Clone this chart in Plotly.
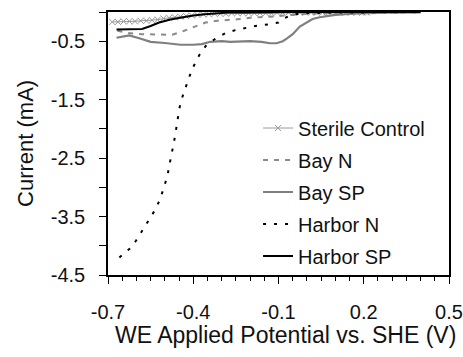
import plotly.graph_objects as go

# ---- data ----
sterile_v = [-0.685,-0.665,-0.645,-0.625,-0.605,-0.585,-0.565,-0.545,-0.525,-0.505,
             -0.485,-0.465,-0.445,-0.425,-0.405,-0.385,-0.365,-0.345,-0.325,-0.305,
             -0.285,-0.265,-0.245,-0.225,-0.205,-0.185,-0.165,-0.145,-0.125,-0.105,
             -0.085,-0.065,-0.045,-0.025,-0.005,0.015,0.035,0.055,0.075,0.095,
             0.115,0.135,0.155,0.175,0.195,0.21]
sterile_i = [-0.17,-0.17,-0.16,-0.16,-0.16,-0.15,-0.15,-0.14,-0.13,-0.11,
             -0.10,-0.09,-0.08,-0.07,-0.06,-0.05,-0.04,-0.04,-0.03,-0.03,
             -0.03,-0.02,-0.02,-0.02,-0.02,-0.02,-0.02,-0.02,-0.02,-0.01,
             -0.01,-0.01,-0.01,-0.01,-0.01,-0.01,-0.01,-0.01,-0.01,-0.01,
             -0.01,-0.01,-0.01,-0.01,-0.01,-0.01]

bayn_v = [-0.667,-0.627,-0.58,-0.52,-0.474,-0.434,-0.396,-0.357,-0.316,-0.281,-0.246,
          -0.2,-0.15,-0.1,-0.05,0.0,0.1,0.2,0.3,0.4]
bayn_i = [-0.32,-0.36,-0.38,-0.39,-0.39,-0.325,-0.25,-0.18,-0.15,-0.14,-0.125,
          -0.10,-0.09,-0.07,-0.05,-0.03,-0.02,-0.01,-0.01,-0.01]

baysp_v = [-0.67,-0.645,-0.625,-0.59,-0.55,-0.50,-0.445,-0.40,-0.37,-0.34,-0.30,-0.27,
           -0.23,-0.20,-0.16,-0.13,-0.107,-0.085,-0.07,-0.05,-0.025,0.0,0.02,0.045,
           0.10,0.16,0.28,0.40]
baysp_i = [-0.44,-0.42,-0.40,-0.45,-0.51,-0.53,-0.56,-0.56,-0.55,-0.51,-0.50,-0.51,
           -0.50,-0.50,-0.51,-0.535,-0.535,-0.50,-0.45,-0.38,-0.25,-0.17,-0.12,-0.09,
           -0.05,-0.03,-0.01,-0.005]

harborn_v = [-0.66,-0.624,-0.601,-0.578,-0.554,-0.536,-0.517,-0.503,-0.491,-0.484,
             -0.475,-0.468,-0.461,-0.456,-0.449,-0.440,-0.428,-0.414,-0.398,-0.379,
             -0.356,-0.326,-0.286,-0.252,-0.212,-0.171,-0.130,-0.100,-0.089,-0.06,
             -0.03,0.0,0.1,0.2,0.3,0.4]
harborn_i = [-4.20,-4.05,-3.91,-3.73,-3.56,-3.40,-3.21,-3.01,-2.81,-2.62,
             -2.42,-2.23,-2.03,-1.83,-1.65,-1.48,-1.29,-1.11,-0.92,-0.74,
             -0.58,-0.47,-0.36,-0.31,-0.27,-0.23,-0.21,-0.18,-0.13,-0.06,
             -0.03,-0.02,-0.01,-0.01,-0.01,0.0]

harborsp_v = [-0.67,-0.62,-0.58,-0.55,-0.52,-0.48,-0.44,-0.40,-0.36,-0.32,-0.28,
              -0.2,-0.1,0.0,0.1,0.2,0.3,0.4]
harborsp_i = [-0.30,-0.30,-0.29,-0.24,-0.18,-0.13,-0.09,-0.06,-0.04,-0.03,-0.01,
              -0.01,0.0,0.0,0.0,0.0,0.0,0.0]

x_ticks = [-0.7, -0.4, -0.1, 0.2, 0.5]
x_ticklabels = ["-0.7", "-0.4", "-0.1", "0.2", "0.5"]
y_ticks = [-4.5, -3.5, -2.5, -1.5, -0.5]
y_ticklabels = ["-4.5", "-3.5", "-2.5", "-1.5", "-0.5"]

FONT = "Liberation Sans, Arial, sans-serif"

fig = go.Figure()
fig.add_trace(go.Scatter(x=sterile_v, y=sterile_i, name="Sterile Control", mode="lines+markers",
                         line=dict(color="#9a9a9a", width=1),
                         marker=dict(symbol="x-thin", size=6, line=dict(color="#9a9a9a", width=1)),
                         legendgroup="a"))
fig.add_trace(go.Scatter(x=bayn_v, y=bayn_i, name="Bay N", mode="lines",
                         line=dict(color="#8a8a8a", width=2, dash="5px,6px"), legendgroup="b"))
fig.add_trace(go.Scatter(x=baysp_v, y=baysp_i, name="Bay SP", mode="lines",
                         line=dict(color="#7f7f7f", width=2.2), legendgroup="c"))
fig.add_trace(go.Scatter(x=harborn_v, y=harborn_i, name="Harbor N", mode="lines",
                         line=dict(color="#000000", width=2, dash="3px,8px"), legendgroup="d"))
fig.add_trace(go.Scatter(x=harborsp_v, y=harborsp_i, name="Harbor SP", mode="lines",
                         line=dict(color="#000000", width=2), legendgroup="e"))

fig.update_layout(
    width=463, height=357,
    margin=dict(l=108, r=14, t=12, b=82, autoexpand=False),
    paper_bgcolor="white", plot_bgcolor="white",
    font=dict(family=FONT, size=20, color="#111"),
    showlegend=True,
    legend=dict(x=0.44, y=0.633, xanchor="left", yanchor="top",
                bgcolor="rgba(0,0,0,0)", borderwidth=0,
                font=dict(family=FONT, size=20, color="#111"),
                tracegroupgap=3, itemwidth=30),
    xaxis=dict(range=[-0.7, 0.5], tickvals=x_ticks, ticktext=x_ticklabels,
               ticks="outside", ticklen=7, tickwidth=1.2, tickcolor="black",
               minor=dict(dtick=0.05, tick0=-0.7, ticks="outside", ticklen=4, tickwidth=1.2, tickcolor="black"),
               showline=True, linecolor="black", linewidth=1.5, mirror=True,
               showgrid=False, zeroline=False, ticklabelstandoff=11,
               tickfont=dict(size=20)),
    yaxis=dict(range=[-4.5, 0], tickvals=y_ticks, ticktext=y_ticklabels,
               ticks="outside", ticklen=7, tickwidth=1.2, tickcolor="black",
               minor=dict(dtick=0.5, tick0=0, ticks="outside", ticklen=7, tickwidth=1.2, tickcolor="black"),
               showline=True, linecolor="black", linewidth=1.5, mirror=True,
               showgrid=False, zeroline=False, ticklabelstandoff=10,
               tickfont=dict(size=20)),
    annotations=[
        dict(text="WE Applied Potential vs. SHE (V)", xref="paper", yref="paper",
             x=0.52, y=-0.228, xanchor="center", yanchor="middle", showarrow=False,
             font=dict(family=FONT, size=23)),
        dict(text="Current (mA)", xref="paper", yref="paper", textangle=-90,
             x=-0.242, y=0.5, xanchor="center", yanchor="middle", showarrow=False,
             font=dict(family=FONT, size=22)),
    ],
)

fig.write_html("out.html", config={"displayModeBar": False},
               post_script="document.body.style.margin='0px';")
